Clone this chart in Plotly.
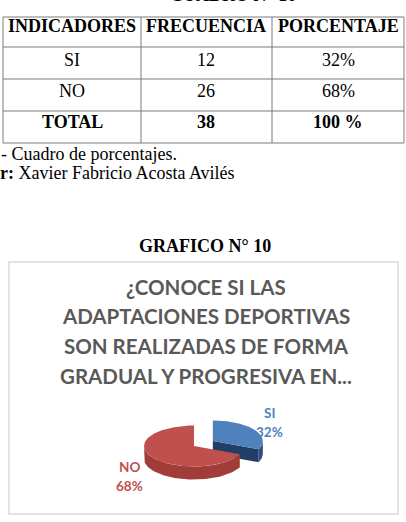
import numpy as np
import plotly.graph_objects as go

# ---------------- data ----------------
indicadores = ["SI", "NO"]
frecuencias = [12, 26]
porcentajes = ["32%", "68%"]
total_label = "TOTAL"
total_frec = 38
total_pct = "100 %"
headers = ["INDICADORES", "FRECUENCIA", "PORCENTAJE"]
cuadro_title = "CUADRO N° 10"
fuente_text = "- Cuadro de porcentajes."
autor_bold = "r:"
autor_text = "Xavier Fabricio Acosta Avilés"
grafico_title = "GRAFICO N° 10"
chart_title_lines = ["¿CONOCE SI LAS", "ADAPTACIONES DEPORTIVAS",
                     "SON REALIZADAS DE FORMA", "GRADUAL Y PROGRESIVA EN..."]
pie_labels = ["SI", "NO"]
pie_values = [12, 26]

W, H = 406, 522
SERIF = "Liberation Serif, Times New Roman, serif"
SANS = "Lato, Open Sans, sans-serif"

fig = go.Figure()

def px(x):
    return x / W

def py(y):
    return 1 - y / H

ann = []
shapes = []

def text(x, y, s, size, color="black", family=SERIF, xanchor="center"):
    ann.append(dict(x=px(x), y=py(y), xref="paper", yref="paper", text=s,
                    showarrow=False, xanchor=xanchor, yanchor="middle",
                    font=dict(family=family, size=size, color=color)))

# ---------------- table (grid + cell texts) ----------------
tx0, tx1 = 3, 404
col_edges = [tx0, 141, 272, tx1]
row_edges = [17, 47, 79, 111, 143]
grid = "#7a7a7a"
shapes.append(dict(type="rect", xref="paper", yref="paper", x0=px(tx0), x1=px(tx1),
                   y0=py(row_edges[-1]), y1=py(row_edges[0]),
                   line=dict(color=grid, width=1)))
for ye in row_edges[1:-1]:
    shapes.append(dict(type="line", xref="paper", yref="paper", x0=px(tx0), x1=px(tx1),
                       y0=py(ye), y1=py(ye), line=dict(color=grid, width=1)))
for xe in col_edges[1:-1]:
    shapes.append(dict(type="line", xref="paper", yref="paper", x0=px(xe), x1=px(xe),
                       y0=py(row_edges[0]), y1=py(row_edges[-1]),
                       line=dict(color=grid, width=1)))

table_rows = [["<b>%s</b>" % h for h in headers]]
for ind, fr, pc in zip(indicadores, frecuencias, porcentajes):
    table_rows.append([ind, str(fr), pc])
table_rows.append(["<b>%s</b>" % total_label, "<b>%d</b>" % total_frec,
                   "<b>%s</b>" % total_pct])
row_text_y = [26, 60, 91, 122]
for r, row in enumerate(table_rows):
    for c, val in enumerate(row):
        xc = (col_edges[c] + col_edges[c + 1]) / 2
        text(xc, row_text_y[r], val, 18)

# ---------------- page texts ----------------
text(233, -5.5, "<b>%s</b>" % cuadro_title, 18)
text(-1, 154, fuente_text, 18, xanchor="left")
text(-2, 173, "<b>%s</b> %s" % (autor_bold, autor_text), 18, xanchor="left")
text(205, 246, "<b>%s</b>" % grafico_title, 18)
for i, line in enumerate(chart_title_lines):
    text(206, 286.5 + 29.7 * i, "<b>%s</b>" % line, 20.5, color="#595959", family=SANS)

shapes.append(dict(type="rect", xref="paper", yref="paper", x0=px(9), x1=px(398),
                   y0=py(514), y1=py(262), line=dict(color="#d9d9d9", width=1.5),
                   fillcolor="rgba(0,0,0,0)", layer="below"))

# ---------------- 3D pie (drawn on pixel-like cartesian axes) ----------------
cx, cy, a, b, depth = 194, 446, 50, 20.5, 13
explode = 0.45
total = float(sum(pie_values))
top_colors = {"SI": "#4F81BD", "NO": "#C0504D"}
side_colors = {"SI": "#2B4F7E", "NO": "#A13C39"}
wall_colors = {"SI": "#213F66", "NO": "#8A302D"}
lbl_colors = {"SI": "#4F81BD", "NO": "#C0504D"}

def pt(x0, y0, th, dz=0.0):
    return x0 + a * np.sin(th), y0 - b * np.cos(th) + dz

slices = []
start = 0.0
for lab, val in zip(pie_labels, pie_values):
    span = 2 * np.pi * val / total
    slices.append((lab, val, start, start + span))
    start += span

def poly(xs, ys, color):
    fig.add_trace(go.Scatter(x=list(xs), y=list(ys), mode="lines", fill="toself",
                             fillcolor=color, line=dict(width=0, color=color),
                             hoverinfo="skip", showlegend=False))

for lab, val, t0, t1 in slices:
    mid = (t0 + t1) / 2
    ex = explode if lab == "SI" else 0.0
    ox = cx + ex * a * np.sin(mid)
    oy = cy - ex * b * np.cos(mid)
    for th, sign in ((t0, -1), (t1, 1)):
        nrm = th + sign * np.pi / 2
        if np.cos(nrm) < 0.05:
            qx, qy = pt(ox, oy, th)
            poly([ox, qx, qx, ox], [oy, qy, qy + depth, oy + depth], wall_colors[lab])
    lo, hi = max(t0, np.pi / 2), min(t1, 3 * np.pi / 2)
    if hi > lo:
        th = np.linspace(lo, hi, 80)
        xs, ys = pt(ox, oy, th)
        poly(np.concatenate([xs, xs[::-1]]),
             np.concatenate([ys, ys[::-1] + depth]), side_colors[lab])
    th = np.linspace(t0, t1, 160)
    xs, ys = pt(ox, oy, th)
    poly(np.concatenate([[ox], xs, [ox]]), np.concatenate([[oy], ys, [oy]]), top_colors[lab])

fig.update_xaxes(range=[0, W], visible=False, fixedrange=True)
fig.update_yaxes(range=[H, 0], visible=False, fixedrange=True)

lab_pos = {"SI": (269, 413, 432), "NO": (129, 467, 486)}
for lab, val, t0, t1 in slices:
    pct = "%d%%" % round(100 * val / total)
    x, y1, y2 = lab_pos[lab]
    text(x, y1, "<b>%s</b>" % lab, 13.5, color=lbl_colors[lab], family=SANS)
    text(x, y2, "<b>%s</b>" % pct, 13.5, color=lbl_colors[lab], family=SANS)

fig.update_layout(
    width=W, height=H, margin=dict(l=0, r=0, t=0, b=0),
    paper_bgcolor="white", plot_bgcolor="white", showlegend=False,
    annotations=ann, shapes=shapes,
)
fig.write_html("out.html")
